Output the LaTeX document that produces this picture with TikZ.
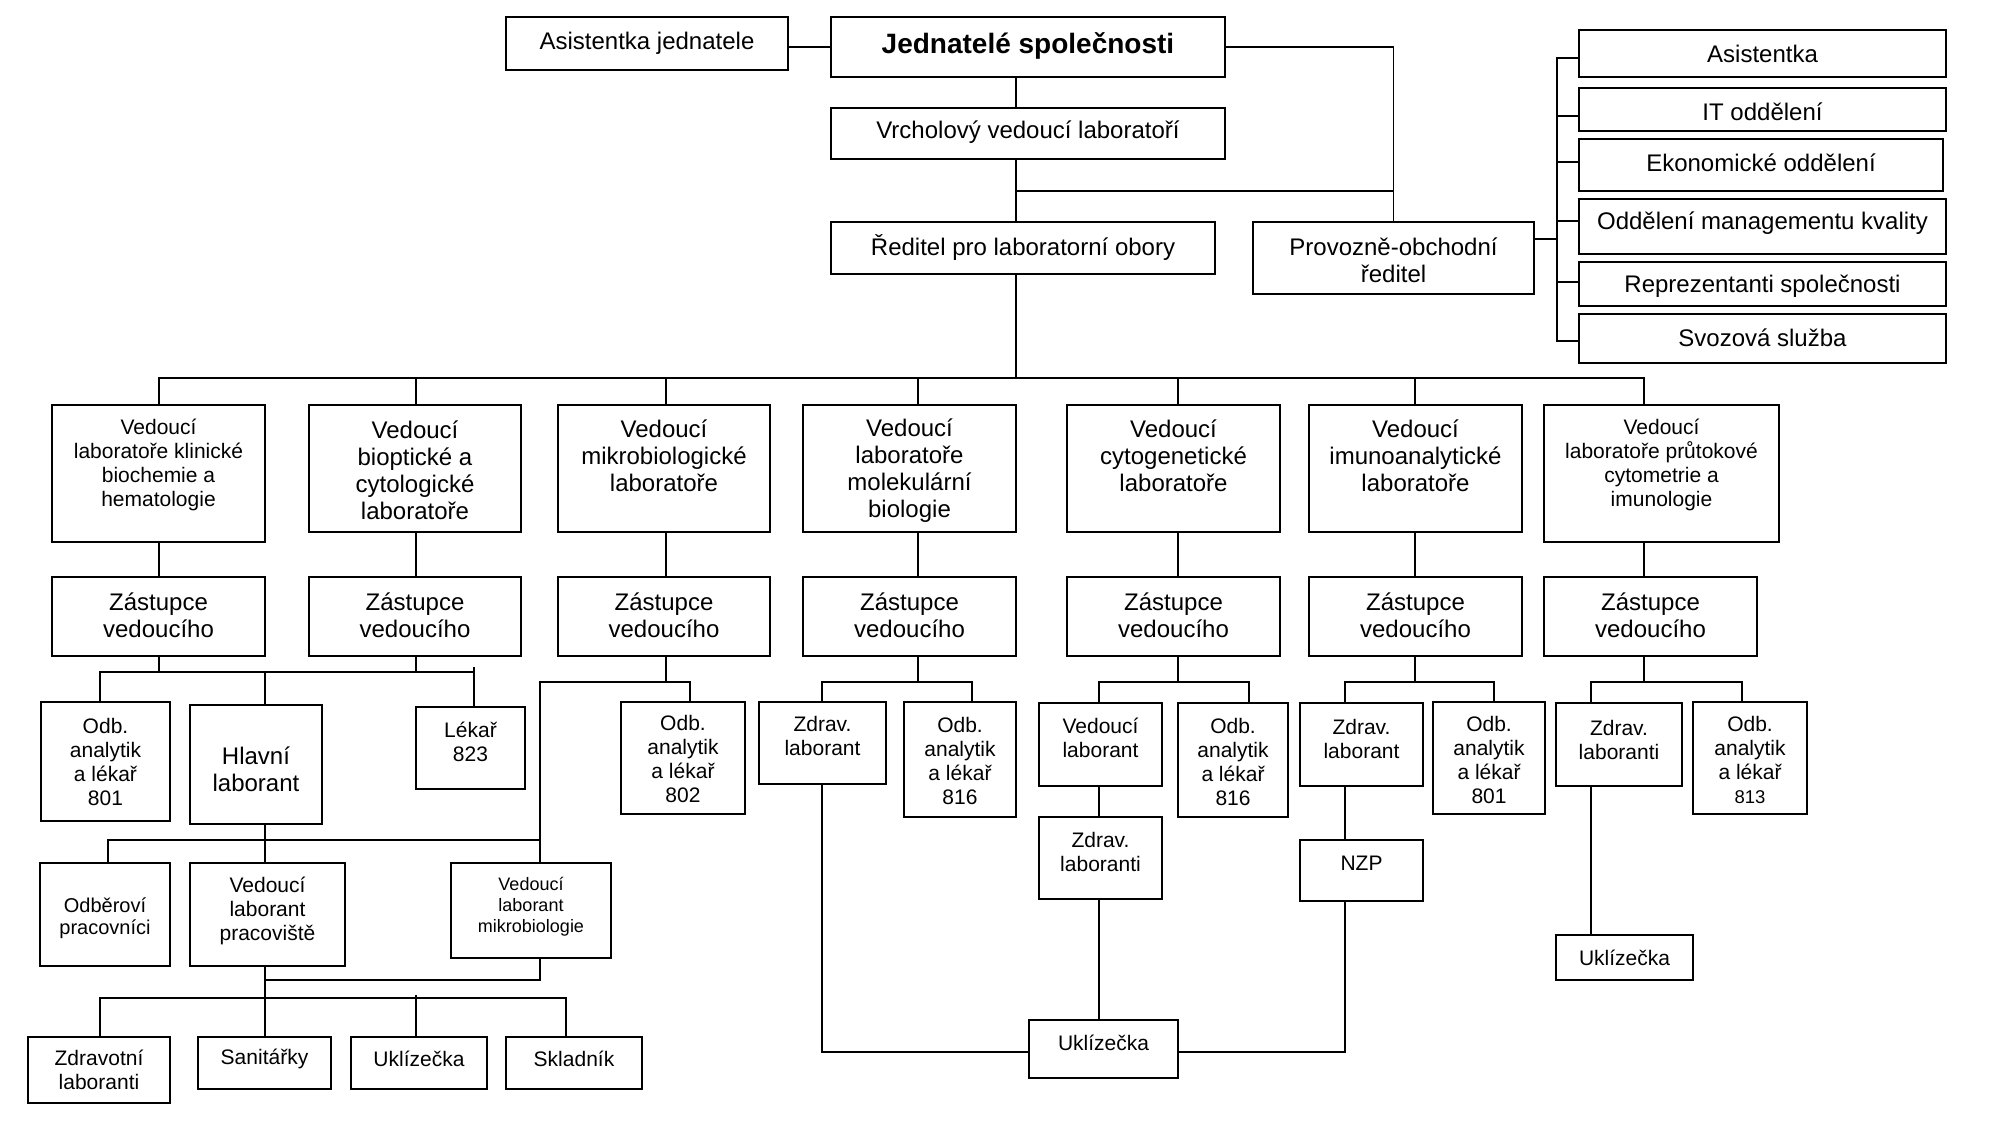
\documentclass[tikz,border=0pt]{standalone}
\usepackage{fontspec}
\setmainfont{Liberation Sans}
\newcommand\orgbox[8]{%
  \node[box, minimum width={(#4-#2)*0.5pt}, minimum height={(#5-#3)*0.5pt}] (#1) at ({(#2+#4)/2},{(#3+#5)/2}) {};
  \node[txt, #7] (#1t) at ({(#2+#4)/2},{(#3+#5)/2+(#6)}) {#8};}
\begin{document}
\begin{tikzpicture}[x=0.5pt,y=-0.5pt,
  box/.style={draw, line width=1pt, inner sep=0pt},
  ln/.style={line width=0.85pt, line cap=rect},
  txt/.style={align=center, inner sep=0pt},
  fT/.style={font=\fontsize{14}{16}\selectfont\bfseries},
  fA/.style={font=\fontsize{12}{13.5}\selectfont},
  fB/.style={font=\fontsize{10.5}{12}\selectfont},
  fC/.style={font=\fontsize{10}{11}\selectfont},
  fD/.style={font=\fontsize{9}{10.5}\selectfont}]
\fill[white] (0,0) rectangle (2000,1136);
\path[use as bounding box] (0,0) rectangle (2000,1136);

% top
\orgbox{asj}{506}{17}{788}{70}{0}{fA}{Asistentka jednatele}
\orgbox{jed}{831}{17}{1225}{77}{-1}{fT}{Jednatelé společnosti}
\orgbox{vrch}{831}{108}{1225}{159}{-1}{fA}{Vrcholový vedoucí laboratoří}
\orgbox{red}{831}{222}{1215}{274}{-1}{fA}{Ředitel pro laboratorní obory}
\orgbox{prov}{1253}{222}{1534}{294}{2}{fA}{Provozně-obchodní\\ředitel}
% right column
\orgbox{ra}{1579}{30}{1946}{77}{0}{fA}{Asistentka}
\orgbox{rb}{1579}{88}{1946}{131}{2}{fA}{IT oddělení}
\orgbox{rc}{1579}{139}{1943}{191}{-2}{fA}{Ekonomické oddělení}
\orgbox{rd}{1579}{199}{1946}{254}{-3}{fA}{Oddělení managementu kvality}
\orgbox{re}{1579}{262}{1946}{306}{2}{fA}{Reprezentanti společnosti}
\orgbox{rf}{1579}{314}{1946}{363}{-1}{fA}{Svozová služba}
% lab heads
\orgbox{L1}{52}{405}{265}{542}{-9}{fB}{Vedoucí\\laboratoře klinické\\biochemie a\\hematologie}
\orgbox{L2}{309}{405}{521}{532}{2}{fA}{Vedoucí\\bioptické a\\cytologické\\laboratoře}
\orgbox{L3}{558}{405}{770}{532}{-13}{fA}{Vedoucí\\mikrobiologické\\laboratoře}
\orgbox{L4}{803}{405}{1016}{532}{2}{fA}{Vedoucí\\laboratoře\\molekulární\\biologie}
\orgbox{L5}{1067}{405}{1280}{532}{-13}{fA}{Vedoucí\\cytogenetické\\laboratoře}
\orgbox{L6}{1309}{405}{1522}{532}{-13}{fA}{Vedoucí\\imunoanalytické\\laboratoře}
\orgbox{L7}{1544}{405}{1779}{542}{-9}{fB}{Vedoucí\\laboratoře průtokové\\cytometrie a\\imunologie}
% deputies
\orgbox{Z1}{52}{577}{265}{656}{-1}{fA}{Zástupce\\vedoucího}
\orgbox{Z2}{309}{577}{521}{656}{-1}{fA}{Zástupce\\vedoucího}
\orgbox{Z3}{558}{577}{770}{656}{-1}{fA}{Zástupce\\vedoucího}
\orgbox{Z4}{803}{577}{1016}{656}{-1}{fA}{Zástupce\\vedoucího}
\orgbox{Z5}{1067}{577}{1280}{656}{-1}{fA}{Zástupce\\vedoucího}
\orgbox{Z6}{1309}{577}{1522}{656}{-1}{fA}{Zástupce\\vedoucího}
\orgbox{Z7}{1544}{577}{1757}{656}{-1}{fA}{Zástupce\\vedoucího}
% third row
\orgbox{a1}{41}{702}{170}{821}{0}{fB}{Odb.\\analytik\\a lékař\\801}
\orgbox{hl}{190}{705}{322}{824}{5}{fA}{Hlavní\\laborant}
\orgbox{lk}{416}{707}{525}{789}{-6}{fB}{Lékař\\823}
\orgbox{a2}{621}{702}{745}{814}{1}{fB}{Odb.\\analytik\\a lékař\\802}
\orgbox{zl4}{759}{702}{886}{784}{-7}{fB}{Zdrav.\\laborant}
\orgbox{a4}{904}{702}{1016}{817}{1}{fB}{Odb.\\analytik\\a lékař\\816}
\orgbox{vl5}{1039}{703}{1162}{786}{-7}{fB}{Vedoucí\\laborant}
\orgbox{a5}{1178}{703}{1288}{817}{2}{fB}{Odb.\\analytik\\a lékař\\816}
\orgbox{zl6}{1300}{703}{1423}{786}{-6}{fB}{Zdrav.\\laborant}
\orgbox{a6}{1433}{702}{1545}{814}{2}{fB}{Odb.\\analytik\\a lékař\\801}
\orgbox{zl7}{1556}{703}{1682}{786}{-5}{fB}{Zdrav.\\laboranti}
\orgbox{a7}{1693}{702}{1807}{814}{2}{fB}{Odb.\\analytik\\a lékař\\{\fontsize{9.25}{12}\selectfont 813}}
% lower rows
\orgbox{zl5}{1039}{817}{1162}{899}{-6}{fB}{Zdrav.\\laboranti}
\orgbox{nzp}{1300}{840}{1423}{901}{-7}{fB}{NZP}
\orgbox{ukl2}{1029}{1020}{1178}{1078}{-6}{fB}{Uklízečka}
\orgbox{ukl3}{1556}{935}{1693}{980}{0}{fB}{Uklízečka}
\orgbox{od}{40}{863}{170}{966}{4}{fC}{Odběroví\\pracovníci}
\orgbox{vlp}{190}{863}{345}{966}{-4}{fB}{Vedoucí\\laborant\\pracoviště}
\orgbox{vlm}{451}{863}{611}{958}{-4}{fD}{Vedoucí\\laborant\\mikrobiologie}
\orgbox{zl}{28}{1037}{170}{1103}{0}{fB}{Zdravotní\\laboranti}
\orgbox{san}{198}{1037}{331}{1089}{-4}{fB}{Sanitářky}
\orgbox{ukl1}{351}{1037}{487}{1089}{-4}{fB}{Uklízečka}
\orgbox{skl}{506}{1037}{642}{1089}{-4}{fB}{Skladník}

% ---------- connectors ----------
\draw[ln] (asj.east |- jed.west) -- (jed.west);
\draw[ln] (jed.east) -| (prov.north);
\coordinate (sp1) at (1016,191);
\draw[ln] (sp1 |- jed.south) -- (sp1 |- vrch.north);
\draw[ln] (sp1 |- vrch.south) -- (sp1 |- red.north);
\draw[ln] (sp1) -| (prov.north);
\coordinate (bus) at (1016,378);
\draw[ln] (sp1 |- red.south) -- (bus);
% right column
\coordinate (pr) at (1557,239);
\draw[ln] (prov.east |- pr) -- (pr);
\foreach \r/\yy in {ra/58,rb/116,rc/162,rd/221,re/282,rf/341} {
  \coordinate (rj\r) at (1557,\yy);
  \draw[ln] (rj\r) -- (\r.west |- rj\r);
}
\draw[ln] (rjra) -- (rjrf);
% lab bus
\coordinate (b1) at (159,378);
\coordinate (b2) at (416,378);
\coordinate (b3) at (666,378);
\coordinate (b4) at (918,378);
\coordinate (b5) at (1178,378);
\coordinate (b6) at (1415,378);
\coordinate (b7) at (1644,378);
\draw[ln] (b1) -- (b7);
\foreach \k in {1,...,7} {
  \draw[ln] (b\k) -- (b\k |- L\k.north);
  \draw[ln] (b\k |- L\k.south) -- (b\k |- Z\k.north);
}
% labs 1 and 2
\coordinate (k1) at (159,672);
\coordinate (k2) at (416,672);
\coordinate (h12L) at (100,672);
\coordinate (h12M) at (265,672);
\coordinate (h12R) at (474,672);
\draw[ln] (k1 |- Z1.south) -- (k1);
\draw[ln] (k2 |- Z2.south) -- (k2);
\draw[ln] (h12L) -- (h12R);
\draw[ln] (h12L) -- (h12L |- a1.north);
\draw[ln] (h12M) -- (h12M |- hl.north);
\draw[ln] ([yshift=2pt]h12R) -- (h12R |- lk.north);
\coordinate (m1) at (265,840);
\coordinate (m1L) at (108,840);
\coordinate (m1R) at (540,840);
\draw[ln] (m1 |- hl.south) -- (m1);
\draw[ln] (m1L) -- (m1R);
\draw[ln] (m1L) -- (m1L |- od.north);
\draw[ln] (m1) -- (m1 |- vlp.north);
% lab 3
\coordinate (k3) at (666,682);
\coordinate (k3L) at (540,682);
\coordinate (k3R) at (690,682);
\draw[ln] (k3 |- Z3.south) -- (k3);
\draw[ln] (k3L) -- (k3R);
\draw[ln] (k3R) -- (k3R |- a2.north);
\draw[ln] (k3L) -- (k3L |- vlm.north);
% below VL pracoviste / VL mikrobiologie
\coordinate (n1) at (265,980);
\coordinate (n2) at (540,980);
\draw[ln] (n1 |- vlp.south) -- (n1 |- san.north);
\draw[ln] (n2 |- vlm.south) -- (n2) -- (n1);
\coordinate (q1) at (100,998);
\coordinate (q3) at (416,998);
\coordinate (q2) at (566,998);
\draw[ln] (q1) -- (q2);
\draw[ln] (q1) -- (q1 |- zl.north);
\draw[ln] ([yshift=1pt]q3) -- (q3 |- ukl1.north);
\draw[ln] (q2) -- (q2 |- skl.north);
% lab 4
\coordinate (k4) at (918,682);
\coordinate (k4L) at (822,682);
\coordinate (k4R) at (972,682);
\draw[ln] (k4 |- Z4.south) -- (k4);
\draw[ln] (k4L) -- (k4R);
\draw[ln] (k4L) -- (k4L |- zl4.north);
\draw[ln] (k4R) -- (k4R |- a4.north);
\coordinate (u1) at (822,1052);
\draw[ln] (u1 |- zl4.south) -- (u1) -- (u1 -| ukl2.west);
% lab 5
\coordinate (k5) at (1178,682);
\coordinate (k5L) at (1099,682);
\coordinate (k5R) at (1249,682);
\draw[ln] (k5 |- Z5.south) -- (k5);
\draw[ln] (k5L) -- (k5R);
\draw[ln] (k5L) -- (k5L |- vl5.north);
\draw[ln] (k5R) -- (k5R |- a5.north);
\draw[ln] (k5L |- vl5.south) -- (k5L |- zl5.north);
\draw[ln] (k5L |- zl5.south) -- (k5L |- ukl2.north);
% lab 6
\coordinate (k6) at (1415,682);
\coordinate (k6L) at (1345,682);
\coordinate (k6R) at (1494,682);
\draw[ln] (k6 |- Z6.south) -- (k6);
\draw[ln] (k6L) -- (k6R);
\draw[ln] (k6L) -- (k6L |- zl6.north);
\draw[ln] (k6R) -- (k6R |- a6.north);
\draw[ln] (k6L |- zl6.south) -- (k6L |- nzp.north);
\coordinate (u2) at (1345,1052);
\draw[ln] (u2 |- nzp.south) -- (u2) -- (u2 -| ukl2.east);
% lab 7
\coordinate (k7) at (1644,682);
\coordinate (k7L) at (1591,682);
\coordinate (k7R) at (1742,682);
\draw[ln] (k7 |- Z7.south) -- (k7);
\draw[ln] (k7L) -- (k7R);
\draw[ln] (k7L) -- (k7L |- zl7.north);
\draw[ln] (k7R) -- (k7R |- a7.north);
\draw[ln] (k7L |- zl7.south) -- (k7L |- ukl3.north);
\end{tikzpicture}
\end{document}
